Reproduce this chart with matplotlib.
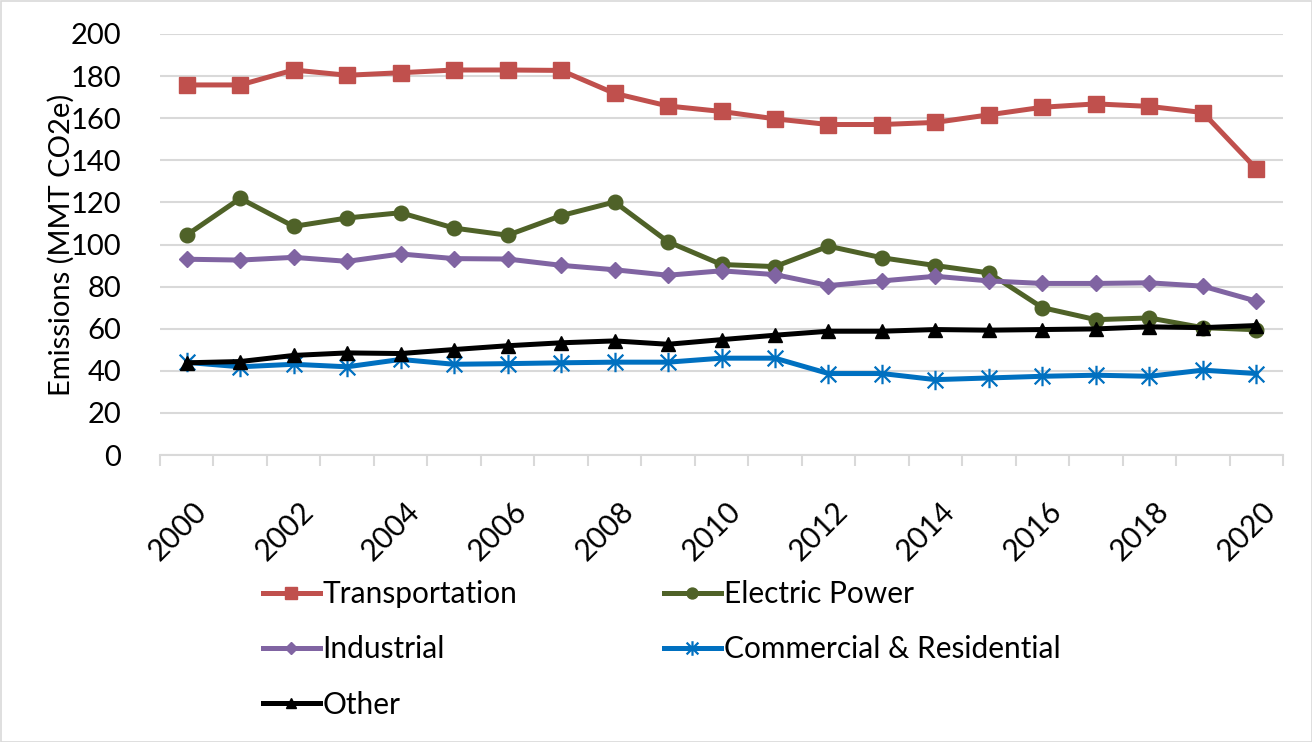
import numpy as np
import matplotlib
matplotlib.use("Agg")
import matplotlib.pyplot as plt
import matplotlib.transforms as mtransforms
from matplotlib.path import Path
from matplotlib.patches import Rectangle

years = list(range(2000, 2021))
transportation = [175.8, 175.8, 182.9, 180.4, 181.6, 182.9, 182.9, 182.7, 171.8, 165.8,
                  163.2, 159.7, 157.0, 157.0, 158.0, 161.6, 165.2, 166.8, 165.6, 162.7, 136.0]
electric_power = [104.5, 121.9, 108.6, 112.6, 115.1, 107.8, 104.4, 113.7, 120.2, 101.3,
                  90.5, 89.5, 99.2, 93.7, 90.0, 86.5, 70.0, 64.3, 65.1, 60.5, 59.5]
industrial = [93.0, 92.6, 93.9, 92.0, 95.5, 93.3, 93.1, 90.1, 88.0, 85.4,
              87.5, 85.7, 80.5, 82.7, 84.9, 82.7, 81.5, 81.5, 81.8, 80.2, 73.1]
commercial_residential = [44.0, 41.9, 43.1, 41.9, 45.4, 43.1, 43.4, 43.8, 44.1, 44.1,
                          46.0, 46.0, 38.7, 38.7, 35.8, 36.6, 37.4, 37.9, 37.4, 40.3, 38.7]
other = [43.8, 44.4, 47.3, 48.5, 48.2, 50.1, 51.9, 53.3, 54.2, 52.6,
         54.8, 56.9, 58.8, 58.8, 59.6, 59.3, 59.6, 59.9, 60.9, 60.5, 61.5]
y_ticks = [0, 20, 40, 60, 80, 100, 120, 140, 160, 180, 200]

plt.rcParams['font.family'] = ['Lato', 'DejaVu Sans']

W, H = 1312, 742
fig = plt.figure(figsize=(W / 100, H / 100), dpi=100)
ax = fig.add_axes([160 / W, 1 - 455 / H, (1283 - 160) / W, (455 - 34) / H])

x = np.arange(len(years))

star = Path([(-0.5, -0.5), (0.5, 0.5), (-0.5, 0.5), (0.5, -0.5), (0, -0.62), (0, 0.62)],
            [Path.MOVETO, Path.LINETO, Path.MOVETO, Path.LINETO, Path.MOVETO, Path.LINETO])

h1, = ax.plot(x, transportation, color='#C0504D', lw=3.6, marker='s', ms=11,
              label='Transportation', zorder=3)
h2, = ax.plot(x, electric_power, color='#4F6228', lw=3.6, marker='o', ms=10.5,
              label='Electric Power', zorder=3)
h3, = ax.plot(x, industrial, color='#8064A2', lw=3.6, marker='D', ms=8.5,
              label='Industrial', zorder=3)
h4, = ax.plot(x, commercial_residential, color='#0070C0', lw=3.6, marker=star, ms=14,
              mew=1.6, label='Commercial & Residential', zorder=3)
h5, = ax.plot(x, other, color='black', lw=3.6, marker='^', ms=10.5,
              label='Other', zorder=4)

ax.set_xlim(-0.5, len(years) - 0.5)
ax.set_ylim(0, 200)
ax.set_yticks(y_ticks)
ax.grid(axis='y', color='#D9D9D9', lw=1.5, zorder=0)
ax.set_axisbelow(True)
for s in ['top', 'right', 'left']:
    ax.spines[s].set_visible(False)
ax.spines['bottom'].set_color('#D9D9D9')
ax.spines['bottom'].set_linewidth(1.5)
ax.tick_params(axis='y', length=0, pad=28, labelsize=21)

ax.set_xticks(x[::2])
ax.set_xticklabels([str(y) for y in years[::2]], rotation=45, ha='right',
                   va='top', rotation_mode='anchor', fontsize=21.5)
ax.tick_params(axis='x', which='major', length=0, pad=30)
offset = mtransforms.ScaledTranslation(5 / 100, 0, fig.dpi_scale_trans)
for lab in ax.get_xticklabels():
    lab.set_transform(lab.get_transform() + offset)
ax.set_xticks(np.arange(-0.5, len(years) + 0.5, 1), minor=True)
ax.tick_params(axis='x', which='minor', length=8, width=1.5, color='#D9D9D9')

ax.set_ylabel('Emissions (MMT CO2e)', fontsize=21)
ax.yaxis.set_label_coords((75 - 160) / (1283 - 160), 0.5)

leg = fig.legend([h1, h3, h5, h2, h4],
                 ['Transportation', 'Industrial', 'Other', 'Electric Power',
                  'Commercial & Residential'],
                 ncol=2, loc='upper left', bbox_to_anchor=(263 / W, 1 - 580 / H),
                 frameon=False, fontsize=21.5, handlelength=1.9, handletextpad=0.1,
                 columnspacing=4.9, labelspacing=0.92, borderaxespad=0, borderpad=0,
                 markerscale=0.75)

fig.patches.append(Rectangle((0.5 / W, 0.5 / H), 1 - 1 / W, 1 - 1 / H,
                             transform=fig.transFigure, fill=False,
                             edgecolor='#D9D9D9', lw=1.2))

fig.savefig('out.png', dpi=100)
